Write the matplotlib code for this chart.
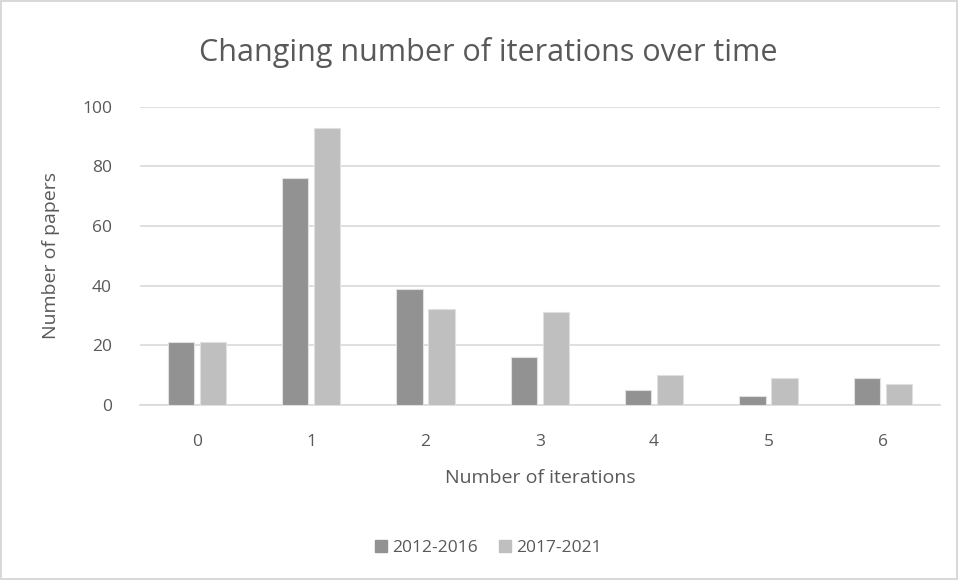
import numpy as np
import matplotlib.pyplot as plt
from matplotlib.patches import Patch

plt.rcParams['font.family'] = ['Open Sans', 'DejaVu Sans']

iterations = ['0', '1', '2', '3', '4', '5', '6']
papers_2012_2016 = [21, 76, 39, 16, 5, 3, 9]
papers_2017_2021 = [21, 93, 32, 31, 10, 9, 7]
series_labels = ['2012-2016', '2017-2021']

text_color = '#595959'
dark = '#929292'
light = '#bfbfbf'

fig = plt.figure(figsize=(9.58, 5.8), dpi=100)
fig.patch.set_edgecolor('#d9d9d9')
fig.patch.set_linewidth(1.5)
ax = fig.add_axes([0.146, 0.302, 0.835, 0.514])

x = np.arange(len(iterations))
w = 0.23
ax.bar(x - 0.14, papers_2012_2016, w, color=dark, edgecolor='#e0e0e0', linewidth=0.8, zorder=3)
ax.bar(x + 0.14, papers_2017_2021, w, color=light, edgecolor='#e0e0e0', linewidth=0.8, zorder=3)

ax.set_xlim(-0.5, len(iterations) - 0.5)
ax.set_ylim(0, 100)
ax.set_yticks(range(0, 101, 20))
ax.set_xticks(x)
ax.set_xticklabels(iterations)
ax.yaxis.grid(True, color='#d9d9d9', linewidth=1.2, zorder=0)
for s in ['top', 'right', 'left']:
    ax.spines[s].set_visible(False)
ax.spines['bottom'].set_color('#d9d9d9')
ax.spines['bottom'].set_linewidth(1.2)
ax.tick_params(length=0, labelsize=12.5, labelcolor=text_color)
ax.tick_params(axis='x', pad=21)
ax.tick_params(axis='y', pad=20)

ax.set_xlabel('Number of iterations', fontsize=14, color=text_color, labelpad=14)
ax.set_ylabel('Number of papers', fontsize=14, color=text_color, labelpad=16)
fig.text(0.51, 0.91, 'Changing number of iterations over time', ha='center', va='center',
         fontsize=22, color=text_color)

handles = [Patch(color=dark), Patch(color=light)]
fig.legend(handles, series_labels, loc='center', bbox_to_anchor=(0.51, 0.055), ncol=2,
           frameon=False, fontsize=12.5, labelcolor=text_color, handlelength=0.7,
           handleheight=0.7, handletextpad=0.3, columnspacing=1.2)

fig.savefig('out.png', dpi=100, edgecolor=fig.get_edgecolor())
